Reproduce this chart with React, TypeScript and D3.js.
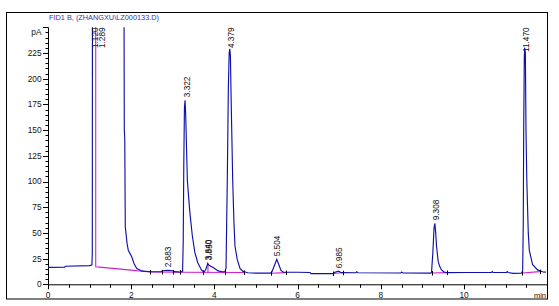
import React from "react";
import * as d3 from "d3";

// ---- data ----
const signalTime = [
  0.0, 0.4, 0.42, 1.0, 1.055, 1.065, 1.07, 1.82, 1.834, 1.845, 1.858, 1.9, 1.93, 2.01, 2.07, 2.13, 2.25,
  2.45, 2.72, 2.75, 2.88, 3.0, 3.03, 3.17, 3.235, 3.25, 3.265, 3.28, 3.295, 3.31, 3.35, 3.41, 3.47, 3.53,
  3.6, 3.69, 3.73, 3.76, 3.8, 3.84, 3.87, 3.97, 4.09, 4.18, 4.255, 4.28, 4.295, 4.31, 4.335, 4.355, 4.37,
  4.385, 4.4, 4.44, 4.47, 4.495, 4.55, 4.615, 4.68, 4.74, 4.8, 5.0, 5.34, 5.38, 5.44, 5.5, 5.55, 5.6, 5.66,
  6.0, 6.3, 6.32, 6.85, 6.88, 6.985, 7.05, 7.4, 7.42, 7.45, 8.48, 8.5, 8.53, 9.2, 9.22, 9.25, 9.28, 9.3,
  9.32, 9.34, 9.38, 9.42, 9.46, 9.52, 9.58, 10.0, 10.66, 10.68, 10.7, 11.02, 11.04, 11.06, 11.18, 11.38,
  11.41, 11.425, 11.435, 11.45, 11.46, 11.475, 11.49, 11.51, 11.545, 11.57, 11.65, 11.77, 11.9, 11.97,
];
const signalPA = [
  16.4, 16.6, 17.6, 18.2, 18.8, 30, 400, 400, 150, 142, 56, 40, 33, 27, 20, 15.5, 13,
  12.2, 12.3, 13.2, 13.6, 13.2, 12.3, 12, 12.5, 40, 120, 172, 179, 165, 101, 70, 47, 31,
  21, 14, 12.3, 12.2, 15, 20.4, 18.5, 16.3, 13, 12.2, 12.2, 16, 60, 101, 190, 225, 229,
  222, 185, 101, 60, 37, 24, 15.5, 12.8, 12, 11.2, 10.8, 10.8, 11.8, 18, 24.3, 19, 13.5, 11.7,
  11.7, 11.5, 10.4, 10.4, 11.5, 12.8, 11.3, 11.2, 12.2, 11.2, 11.0, 12.0, 11.0, 10.8, 12, 30, 55, 59.3,
  50, 37, 22, 17, 14, 12, 11.4, 11.5, 11.5, 12.4, 11.5, 11.5, 12.4, 11.5, 10.7, 10.8,
  13, 60, 150, 222, 230, 225, 150, 101, 50, 33, 19, 14, 12, 11.8,
];

const baselineSegTime = [
  [1.147, 1.147, 1.3, 2.0, 2.2, 2.45, 3.2, 4.72],
  [5.36, 5.72],
  [6.85, 7.08],
  [9.22, 9.6],
  [11.4, 11.82],
  [3.845, 3.845],
];
const baselineSegPA = [
  [400, 17, 16.5, 13.8, 13, 12, 11.7, 11.5],
  [10.8, 11.4],
  [10.5, 11.2],
  [11.0, 11.4],
  [11.0, 12.3],
  [11.6, 19.8],
];

const markerTime = [2.45, 2.73, 3.01, 3.17, 3.73, 4.255, 4.72, 5.36, 5.72, 6.85, 7.08, 9.22, 9.6, 11.4, 11.82];
const markerPA = [12, 12, 11.9, 11.8, 11.6, 11.6, 11.5, 10.8, 11.4, 10.5, 11.2, 11.0, 11.4, 11.0, 12.3];

const peakRT = [1.12, 1.289, 2.883, 3.322, 3.84, 3.85, 4.379, 5.504, 6.985, 9.308, 11.47];
const peakApexPA = [400, 400, 13.6, 179, 20.4, 20.4, 229, 24.3, 12.8, 59.3, 230];

const xTickLabels = [0, 2, 4, 6, 8, 10];
const yTickLabels = [0, 25, 50, 75, 100, 125, 150, 175, 200, 225];

const TITLE = "FID1 B,  (ZHANGXU\\LZ000133.D)";

// ---- layout ----
const W = 559;
const H = 306;
const L = 48;
const R = 547.2;
const T = 27.3;
const B = 284.3;
const FONT = "'Liberation Sans', Arial, sans-serif";
const BLUE = "#1010a8";
const MAGENTA = "#d21ed2";
const INK = "#111";

export default function App() {
  const x = d3.scaleLinear().domain([0, 12]).range([L, R]);
  const y = d3.scaleLinear().domain([0, 250]).range([B, T]);

  const line = d3
    .line<[number, number]>()
    .x((d) => x(d[0]))
    .y((d) => y(d[1]));

  const signal = line(signalTime.map((t, i) => [t, signalPA[i]] as [number, number])) || "";
  const baselines = baselineSegTime.map(
    (ts, k) => line(ts.map((t, i) => [t, baselineSegPA[k][i]] as [number, number])) || ""
  );

  const xMinor = d3.range(0, 12.001, 0.5);
  const yMinor = d3.range(0, 250.001, 5);

  return (
    <svg
      width={W}
      height={H}
      style={{ position: "absolute", left: 0, top: 0, background: "#fff" }}
      fontFamily={FONT}
    >
      <defs>
        <clipPath id="plot">
          <rect x={L} y={T} width={R - L + 1} height={B - T} />
        </clipPath>
      </defs>
      <rect x={0} y={0} width={W} height={H} fill="#fff" />
      <rect x={6.5} y={12.5} width={541} height={286.5} fill="none" stroke="#000" strokeWidth={1} />

      <text x={49} y={19.5} fontSize={8} fill="#3434b8" textLength={110} lengthAdjust="spacingAndGlyphs">
        {TITLE}
      </text>

      {/* axes */}
      <line x1={L + 0.5} x2={L + 0.5} y1={T} y2={B + 0.5} stroke="#000" />
      <line x1={L} x2={R} y1={B + 0.5} y2={B + 0.5} stroke="#000" />
      {yMinor.map((v) => {
        const major = v % 25 === 0;
        return (
          <line
            key={"ym" + v}
            x1={L - (major ? 5 : 2.5)}
            x2={L}
            y1={Math.round(y(v)) + 0.5}
            y2={Math.round(y(v)) + 0.5}
            stroke="#000"
          />
        );
      })}
      {yTickLabels.map((v) => (
        <text key={"yl" + v} x={41.5} y={y(v)} dy="0.35em" fontSize={8.3} textAnchor="end" fill={INK}>
          {v}
        </text>
      ))}
      <text x={41.5} y={y(250) + 4.5} dy="0.35em" fontSize={8.3} textAnchor="end" fill={INK}>
        pA
      </text>
      {xMinor.map((v) => {
        const major = v % 2 === 0;
        return (
          <line
            key={"xm" + v}
            x1={Math.round(x(v)) + 0.5}
            x2={Math.round(x(v)) + 0.5}
            y1={B}
            y2={B + (major ? 5 : 3.5)}
            stroke="#000"
          />
        );
      })}
      {xTickLabels.map((v) => (
        <text key={"xl" + v} x={x(v)} y={297.5} fontSize={8.3} textAnchor="middle" fill={INK}>
          {v}
        </text>
      ))}
      <text x={546} y={297.5} fontSize={7.5} textAnchor="end" fill={INK}>
        min
      </text>

      {/* traces */}
      <g clipPath="url(#plot)">
        {baselines.map((d, i) => (
          <path key={"bl" + i} d={d} fill="none" stroke={MAGENTA} strokeWidth={1.1} />
        ))}
        <path d={signal} fill="none" stroke={BLUE} strokeWidth={1.15} />
        {markerTime.map((t, i) => (
          <line
            key={"mk" + i}
            x1={Math.round(x(t)) + 0.5}
            x2={Math.round(x(t)) + 0.5}
            y1={y(markerPA[i]) - 2}
            y2={y(markerPA[i]) + 2.5}
            stroke="#000"
          />
        ))}
      </g>

      {/* retention time labels */}
      {peakRT.map((rt, i) => {
        const label = rt.toFixed(3);
        const estLen = label.length * 4.3;
        const py = y(peakApexPA[i]) - 3;
        const clamped = py - estLen < T;
        const yy = clamped ? T : py;
        return (
          <text
            key={"pk" + i}
            transform={`translate(${x(rt) + 0.5},${yy}) rotate(-90)`}
            dy="0.35em"
            fontSize={8.3}
            textAnchor={clamped ? "end" : "start"}
            fill={INK}
          >
            {label}
          </text>
        );
      })}
    </svg>
  );
}
